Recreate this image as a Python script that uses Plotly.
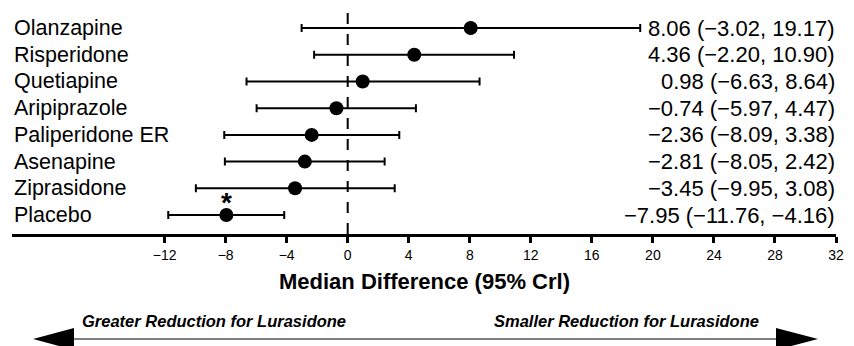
import plotly.graph_objects as go

drugs = ["Olanzapine", "Risperidone", "Quetiapine", "Aripiprazole",
         "Paliperidone ER", "Asenapine", "Ziprasidone", "Placebo"]
median = [8.06, 4.36, 0.98, -0.74, -2.36, -2.81, -3.45, -7.95]
lower = [-3.02, -2.20, -6.63, -5.97, -8.09, -8.05, -9.95, -11.76]
upper = [19.17, 10.90, 8.64, 4.47, 3.38, 2.42, 3.08, -4.16]
tick_vals = [-12, -8, -4, 0, 4, 8, 12, 16, 20, 24, 28, 32]
significant = ["Placebo"]

FONT = "Liberation Sans, Arial, sans-serif"
n = len(drugs)
ypos = [n - 1 - i for i in range(n)]

W, H = 854, 346
L, R, T, B = 12, 18, 0, 112
PW, PH = W - L - R, H - T - B


def px(x):
    return (x - L) / PW


def py(y):
    return (T + PH - y) / PH


def fmt(v):
    s = f"{v:.2f}"
    return s.replace("-", "\u2212")


fig = go.Figure()
fig.add_trace(go.Scatter(
    x=median, y=ypos, mode="markers",
    marker=dict(color="black", size=14),
    error_x=dict(type="data", symmetric=False,
                 array=[u - m for u, m in zip(upper, median)],
                 arrayminus=[m - l for m, l in zip(median, lower)],
                 color="black", thickness=2, width=4),
    showlegend=False, hoverinfo="skip", cliponaxis=False,
))

annotations = []
for d, m, lo, hi, y in zip(drugs, median, lower, upper, ypos):
    annotations.append(dict(x=-22, y=y, xref="x", yref="y", text=d,
                            xanchor="left", yanchor="middle", showarrow=False,
                            xshift=0, font=dict(size=21.5, color="black", family=FONT)))
    annotations.append(dict(x=32, y=y, xref="x", yref="y",
                            text=f"{fmt(m)} ({fmt(lo)}, {fmt(hi)})",
                            xanchor="right", yanchor="middle", showarrow=False,
                            xshift=1, font=dict(size=22, color="black", family=FONT)))
    if d in significant:
        annotations.append(dict(x=m, y=y, xref="x", yref="y", text="<b>*</b>",
                                xanchor="center", yanchor="middle", showarrow=False,
                                yshift=13, font=dict(size=28, color="black", family=FONT)))

annotations.append(dict(x=0.5, y=py(281), xref="paper", yref="paper",
                        text="<b>Median Difference (95% Crl)</b>", showarrow=False,
                        xanchor="center", yanchor="middle",
                        font=dict(size=22, color="black", family=FONT)))
annotations.append(dict(x=px(213.5), y=py(321), xref="paper", yref="paper",
                        text="<b><i>Greater Reduction for Lurasidone</i></b>", showarrow=False,
                        xanchor="center", yanchor="middle",
                        font=dict(size=16.5, color="black", family=FONT)))
annotations.append(dict(x=px(626.5), y=py(321), xref="paper", yref="paper",
                        text="<b><i>Smaller Reduction for Lurasidone</i></b>", showarrow=False,
                        xanchor="center", yanchor="middle",
                        font=dict(size=16.5, color="black", family=FONT)))

shapes = [
    dict(type="line", xref="x", yref="y", x0=0, x1=0, y0=-0.71, y1=7.56,
         line=dict(color="black", width=2, dash="11px,10px"), layer="below"),
    dict(type="line", xref="paper", yref="paper", x0=px(73), x1=px(777),
         y0=py(339), y1=py(339), line=dict(color="black", width=1.2)),
    dict(type="path", xref="paper", yref="paper",
         path=f"M {px(33)} {py(339)} L {px(74)} {py(328)} L {px(74)} {py(350)} Z",
         fillcolor="black", line=dict(color="black", width=0)),
    dict(type="path", xref="paper", yref="paper",
         path=f"M {px(818)} {py(339)} L {px(776)} {py(328)} L {px(776)} {py(350)} Z",
         fillcolor="black", line=dict(color="black", width=0)),
]

fig.update_layout(
    width=W, height=H, margin=dict(l=L, r=R, t=T, b=B),
    paper_bgcolor="white", plot_bgcolor="white",
    annotations=annotations, shapes=shapes,
    xaxis=dict(range=[-22, 32], tickvals=tick_vals, showgrid=False, zeroline=False,
               showline=True, linecolor="black", linewidth=3,
               ticks="outside", ticklen=6, tickwidth=2.5, tickcolor="black",
               tickfont=dict(size=14, color="black", family=FONT)),
    yaxis=dict(range=[-0.71, 8.05], showgrid=False, zeroline=False,
               showticklabels=False, showline=False),
)
fig.write_html("out.html", config={"displayModeBar": False},
               post_script="document.body.style.margin='0';document.body.style.overflow='hidden';")
